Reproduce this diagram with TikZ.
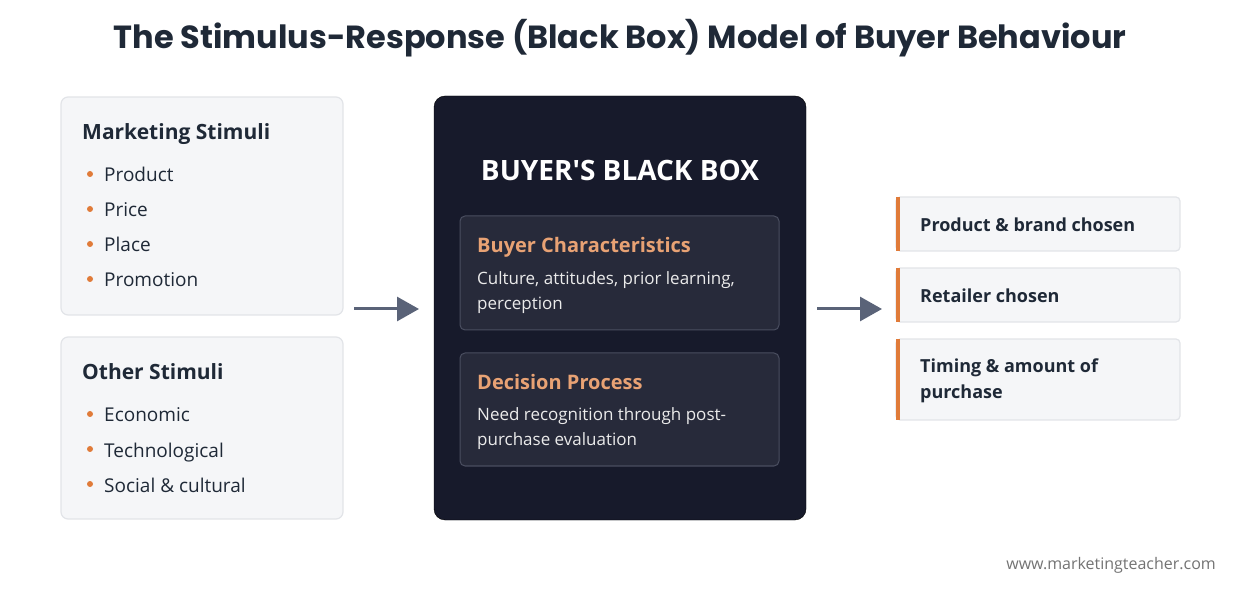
\documentclass[tikz,border=0pt]{standalone}
\usepackage{fontspec}
\setmainfont{Open Sans}
\newfontfamily\headfont{Poppins}
\usetikzlibrary{arrows.meta}
\definecolor{panel}{HTML}{F5F6F8}
\definecolor{panelline}{HTML}{E2E4E8}
\definecolor{ink}{HTML}{1F2937}
\definecolor{boxbg}{HTML}{171A2B}
\definecolor{innerbg}{HTML}{272A3A}
\definecolor{innerline}{HTML}{4A4E60}
\definecolor{accent}{HTML}{E07B39}
\definecolor{soft}{HTML}{E8A274}
\definecolor{arrowgray}{HTML}{5A6378}
\begin{document}
\begin{tikzpicture}[x=1pt,y=-1pt]
    \tikzstyle{every node}+=[inner sep=0pt]
    \tikzstyle{panel}=[fill=panel,draw=panelline,line width=1.2pt,rounded corners=7pt]
    \tikzstyle{inner}=[fill=innerbg,draw=innerline,line width=1pt,rounded corners=5pt]
    \tikzstyle{head}=[anchor=west,text height=15pt,text depth=5pt,font=\fontsize{21}{24}\selectfont\bfseries,text=ink]
    \tikzstyle{item}=[anchor=west,text height=14pt,text depth=4pt,font=\fontsize{19}{22}\selectfont,text=ink]
    \tikzstyle{flow}=[draw=arrowgray,line width=3pt,-{Triangle[length=22pt,width=24pt]}]
    \tikzstyle{result}=[anchor=west,font=\fontsize{18}{26}\selectfont\bfseries,text=ink,align=left]
    \tikzstyle{note}=[anchor=north west,text=white!92!black,font=\fontsize{17}{25}\selectfont,align=left]
    \useasboundingbox (0,0) rectangle (1240,593);
    % title
    \node (title) at (620,38) {\headfont\fontsize{32}{38}\selectfont\bfseries\color{ink}The Stimulus-Response (Black Box) Model of Buyer Behaviour};
    % stimuli
    \draw [panel] (61,97) rectangle (343,315);
    \node [head] (mkt) at (82,135) {Marketing Stimuli};
    \foreach \t [count=\i] in {Product,Price,Place,Promotion} {
        \fill [accent] (90,139+35*\i) circle (3);
        \node [item] (mkt\i) at (104,142+35*\i) {\t};
    }
    \draw [panel] (61,337) rectangle (343,519);
    \node [head] (oth) at (82,375) {Other Stimuli};
    \foreach \t [count=\i] in {Economic,Technological,Social \& cultural} {
        \fill [accent] (90,379+35*\i) circle (3);
        \node [item] (oth\i) at (104,382+35*\i) {\t};
    }
    % black box
    \draw [fill=boxbg,rounded corners=11pt] (434,96) rectangle (806,520);
    \node (bbox) at (620,170) {\fontsize{28}{32}\selectfont\bfseries\color{white}BUYER\textquotesingle S BLACK BOX};
    \draw [inner] (460,216) rectangle (779,330);
    \node [head,text=soft,font=\fontsize{20}{24}\selectfont\bfseries] (char) at (477,248) {Buyer Characteristics};
    \node [note] (chartxt) at (477,271) {Culture, attitudes, prior learning,\\perception};
    \draw [inner] (460,353) rectangle (779,466);
    \node [head,text=soft,font=\fontsize{20}{24}\selectfont\bfseries] (dec) at (477,385) {Decision Process};
    \node [note] (dectxt) at (477,407) {Need recognition through post-\\purchase evaluation};
    % arrows
    \coordinate (a1) at (354,309); \coordinate (b1) at (419,309);
    \coordinate (a2) at (817,309); \coordinate (b2) at (882,309);
    \draw [flow] (a1) -- (b1);
    \draw [flow] (a2) -- (b2);
    % responses
    \foreach \ya/\yb in {197/251,268/322,339/420} {
        \fill [panel,rounded corners=4pt] (896,\ya) rectangle (1180,\yb);
        \fill [accent] (896,\ya) rectangle (900,\yb);
    }
    \node [result] (r1) at (920,225) {Product \& brand chosen};
    \node [result] (r2) at (920,296) {Retailer chosen};
    \node [result] (r3) at (920,381) {Timing \& amount of\\purchase};
    % footer
    \node [anchor=east,font=\fontsize{16}{18}\selectfont,text=gray!90!black] (web) at (1216,565) {www.marketingteacher.com};
\end{tikzpicture}
\end{document}
